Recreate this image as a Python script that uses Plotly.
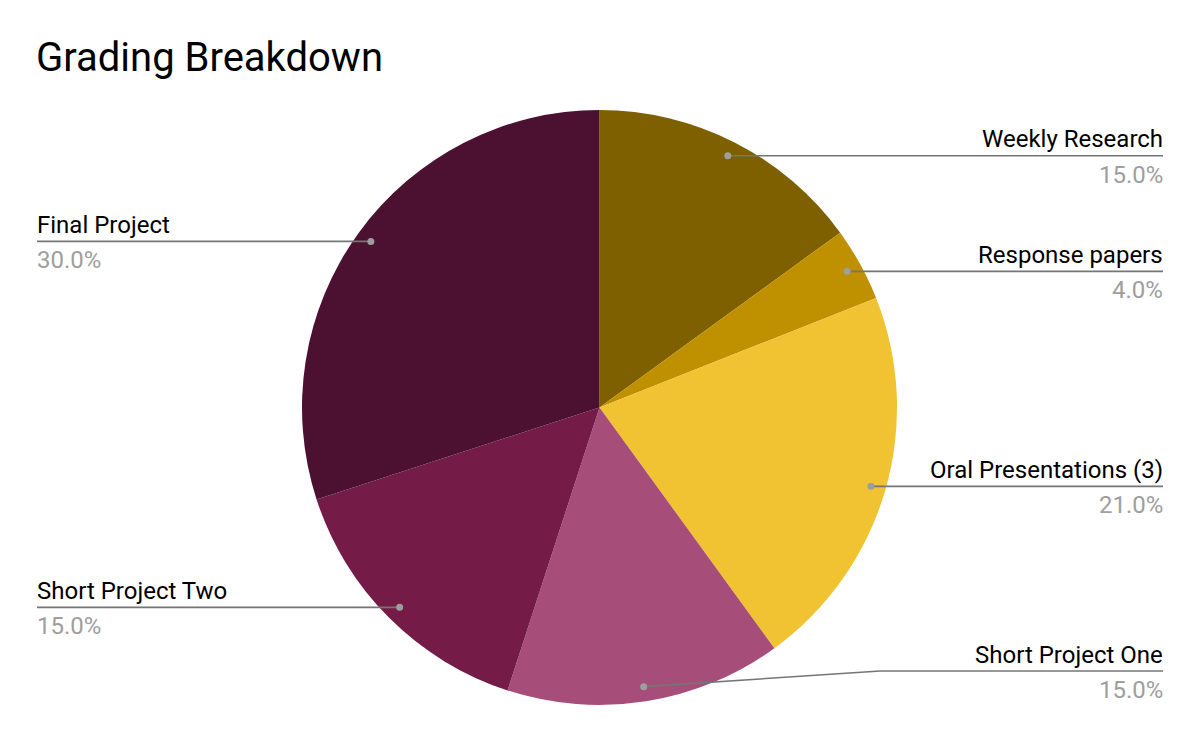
import math
import plotly.graph_objects as go

# ---- data ----
labels = ["Weekly Research", "Response papers", "Oral Presentations (3)",
          "Short Project One", "Short Project Two", "Final Project"]
values = [15, 4, 21, 15, 15, 30]
colors = ["#7f6000", "#bf9000", "#f1c232", "#a64d79", "#741b47", "#4c1130"]
title = "Grading Breakdown"

# ---- layout constants (screen pixels) ----
W, H = 1200, 742
PAGE_OFF = 8  # default body margin of the html page
CX, CY, R = 599.5, 407.5, 297.5
DOT_FRAC = 0.95
RIGHT_X, LEFT_X = 1163, 37
TEXT_PAD = 2
FONT = "Roboto"
LINE_COLOR = "#757575"
DOT_COLOR = "#9e9e9e"
PCT_COLOR = "#9e9e9e"
label_y_override = {"Short Project One": 671}
bend_x_override = {"Short Project One": 880}


def px(x):
    return (x - PAGE_OFF) / W


def py(y):
    return 1 - (y - PAGE_OFF) / H


fig = go.Figure(go.Pie(
    labels=labels, values=values, sort=False, direction="clockwise", rotation=0,
    marker=dict(colors=colors, line=dict(width=0)),
    textinfo="none", hoverinfo="label+percent", showlegend=False,
    domain=dict(x=[px(CX - R), px(CX + R)], y=[py(CY + R), py(CY - R)]),
))

total = sum(values)
shapes, annotations = [], []
cum = 0
for lab, v in zip(labels, values):
    mid = (cum + v / 2) / total * 2 * math.pi
    cum += v
    dx = CX + DOT_FRAC * R * math.sin(mid)
    dy = CY - DOT_FRAC * R * math.cos(mid)
    right = math.sin(mid) >= 0
    ly = label_y_override.get(lab, dy)
    end_x = RIGHT_X if right else LEFT_X
    pts = [(dx, dy)]
    if lab in bend_x_override:
        pts.append((bend_x_override[lab], ly))
    pts.append((end_x, ly))
    for (x0, y0), (x1, y1) in zip(pts[:-1], pts[1:]):
        shapes.append(dict(type="line", xref="paper", yref="paper",
                           x0=px(x0), y0=py(y0), x1=px(x1), y1=py(y1),
                           line=dict(color=LINE_COLOR, width=1.6)))
    rr = 3.5
    shapes.append(dict(type="circle", xref="paper", yref="paper",
                       x0=px(dx - rr), x1=px(dx + rr), y0=py(dy + rr), y1=py(dy - rr),
                       fillcolor=DOT_COLOR, line=dict(width=0)))
    anchor = "right" if right else "left"
    tx = end_x + TEXT_PAD if right else end_x - TEXT_PAD
    annotations.append(dict(text=lab, xref="paper", yref="paper",
                            x=px(tx), y=py(ly - 16.5), xanchor=anchor, yanchor="middle",
                            showarrow=False, font=dict(family=FONT, size=24, color="#000000")))
    annotations.append(dict(text=f"{v / total * 100:.1f}%", xref="paper", yref="paper",
                            x=px(tx), y=py(ly + 19), xanchor=anchor, yanchor="middle",
                            showarrow=False, font=dict(family=FONT, size=24, color=PCT_COLOR)))

annotations.append(dict(text=title, xref="paper", yref="paper",
                        x=px(34), y=py(58), xanchor="left", yanchor="middle",
                        showarrow=False, font=dict(family=FONT, size=40, color="#000000")))

fig.update_layout(
    width=W, height=H, margin=dict(l=0, r=0, t=0, b=0),
    paper_bgcolor="white", plot_bgcolor="white",
    shapes=shapes, annotations=annotations,
)
fig.write_html("out.html")
